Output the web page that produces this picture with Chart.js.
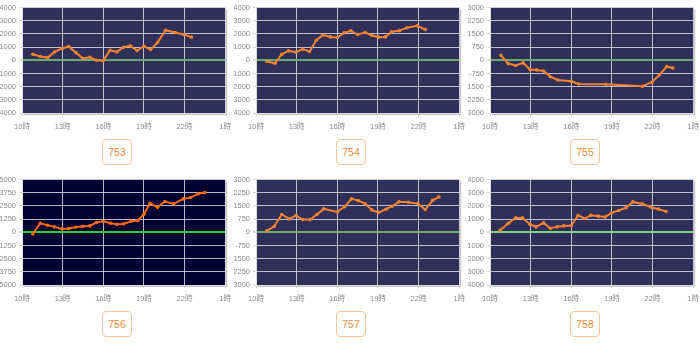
<!DOCTYPE html>
<html>
<head>
<meta charset="utf-8">
<script src="https://cdn.jsdelivr.net/npm/chart.js@4"></script>
<style>
  body { margin: 0; background: #fff; width: 700px; height: 344px; overflow: hidden; position: relative; }
  .panel { position: absolute; width: 234px; height: 172px; overflow: hidden; }
  .panel canvas { position: absolute; left: -6px; top: 0; }
  .btn { position: absolute; left: 102px; top: 139px; width: 30px; height: 26px; box-sizing: border-box;
         border: 1px solid #fbc59c; border-radius: 4px; color: #f28c3e; background: #fff;
         font: 10.5px "Liberation Sans", "Noto Sans", sans-serif; line-height: 24px; text-align: center; }
</style>
</head>
<body>
<script>
const names = ['753', '754', '755', '756', '757', '758'];
const yMax = [4000, 4000, 3000, 5000, 3000, 4000];

const hours753 = [10.8, 11.35, 11.9, 12.4, 12.95, 13.45, 14.0, 14.5, 15.0, 15.5, 16.0, 16.5, 17.0, 17.5, 18.0, 18.5, 19.0, 19.5, 20.0, 20.6, 21.3, 21.95, 22.5];
const values753 = [450, 280, 200, 630, 890, 1040, 560, 130, 230, 0, -30, 760, 630, 990, 1090, 730, 1060, 810, 1340, 2280, 2100, 1950, 1750];

const hours754 = [10.8, 11.4, 11.9, 12.4, 12.95, 13.45, 13.95, 14.45, 14.95, 15.5, 16.0, 16.5, 17.0, 17.5, 18.05, 18.55, 19.05, 19.55, 20.0, 20.6, 21.15, 21.9, 22.5];
const values754 = [-100, -230, 460, 710, 610, 840, 660, 1520, 1920, 1770, 1720, 2080, 2230, 1950, 2100, 1900, 1750, 1770, 2150, 2250, 2460, 2610, 2330];

const hours755 = [10.8, 11.35, 11.9, 12.45, 12.95, 13.45, 13.95, 14.45, 15.0, 16.0, 16.55, 18.55, 21.25, 21.95, 22.5, 23.05, 23.5];
const values755 = [285, -190, -300, -150, -530, -550, -610, -930, -1120, -1200, -1350, -1370, -1480, -1250, -840, -360, -440];

const hours756 = [10.8, 11.35, 11.9, 12.4, 12.95, 13.45, 13.95, 14.5, 15.0, 15.5, 16.0, 16.55, 17.0, 17.5, 18.05, 18.55, 19.0, 19.45, 20.0, 20.55, 21.2, 21.9, 22.45, 23.0, 23.5];
const values756 = [-160, 850, 660, 510, 320, 350, 470, 570, 600, 920, 1040, 850, 760, 790, 1040, 1110, 1710, 2750, 2370, 2910, 2690, 3160, 3290, 3640, 3770];

const hours757 = [10.8, 11.35, 11.9, 12.45, 12.95, 13.45, 14.0, 14.5, 15.0, 16.0, 16.55, 17.05, 17.55, 18.05, 18.55, 19.05, 19.6, 20.05, 20.55, 21.25, 21.95, 22.5, 23.05, 23.5];
const values757 = [80, 340, 1010, 760, 950, 720, 720, 1010, 1330, 1160, 1460, 1900, 1800, 1630, 1270, 1120, 1310, 1480, 1730, 1710, 1630, 1290, 1820, 2010];

const hours758 = [10.75, 11.35, 11.9, 12.4, 12.95, 13.4, 13.95, 14.45, 14.95, 15.45, 16.0, 16.5, 17.0, 17.45, 18.0, 18.5, 19.0, 19.5, 20.05, 20.55, 21.25, 21.9, 22.45, 23.0];
const values758 = [150, 680, 1090, 1090, 610, 410, 710, 300, 410, 480, 510, 1270, 1040, 1290, 1220, 1160, 1490, 1650, 1870, 2300, 2150, 1900, 1750, 1570];

const allHours = [hours753, hours754, hours755, hours756, hours757, hours758];
const allValues = [values753, values754, values755, values756, values757, values758];

// plot background + little shadow to the right/bottom
const plotBg = {
  id: 'plotBg',
  beforeDraw(chart, args, opts) {
    const a = chart.chartArea, c = chart.ctx;
    c.save();
    c.fillStyle = '#c4c4c4';
    c.fillRect(a.left + 2, a.top + 2, a.right - a.left, a.bottom - a.top);
    c.fillStyle = opts.color;
    c.fillRect(a.left, a.top, a.right - a.left, a.bottom - a.top);
    c.restore();
  }
};

const tickFont = { family: '"Liberation Sans", "Noto Sans CJK JP", sans-serif', size: 7.5 };

for (let i = 0; i < names.length; i++) {
  const col = i % 3, row = Math.floor(i / 3);
  const dark = names[i] === '756';
  const bg = dark ? '#000033' : '#2f2f5a';
  const lineCol = dark ? '#ff6a00' : '#f7822e';
  const zeroCol = dark ? '#33cc33' : (names[i] === '758' ? '#7fd27f' : '#6aae6a');
  const gridCol = 'rgba(215,215,225,0.85)';

  const panel = document.createElement('div');
  panel.className = 'panel';
  panel.style.left = (col * 234) + 'px';
  panel.style.top = (row * 172) + 'px';
  const cv = document.createElement('canvas');
  cv.width = 243; cv.height = 133;
  panel.appendChild(cv);
  const btn = document.createElement('div');
  btn.className = 'btn';
  btn.textContent = names[i];
  panel.appendChild(btn);
  document.body.appendChild(panel);

  const pts = allHours[i].map((h, k) => ({ x: h, y: allValues[i][k] }));

  new Chart(cv.getContext('2d'), {
    type: 'line',
    data: {
      datasets: [{
        data: pts,
        borderColor: lineCol,
        backgroundColor: lineCol,
        borderWidth: 2,
        pointRadius: 1.8,
        pointBorderWidth: 0,
        tension: 0
      }]
    },
    options: {
      responsive: false,
      animation: false,
      layout: { padding: { top: 3, right: 8, left: 0, bottom: 0 } },
      plugins: { legend: { display: false }, tooltip: { enabled: false }, plotBg: { color: bg } },
      scales: {
        x: {
          type: 'linear',
          min: 10, max: 25,
          afterFit: s => { s.height = 20; },
          ticks: { stepSize: 3, padding: 6, color: '#8c8c8c', font: tickFont, maxRotation: 0,
                   callback: v => (v % 24) + '時' },
          grid: { color: gridCol, tickColor: '#ddd', tickLength: 3 },
          border: { color: '#ddd' }
        },
        y: {
          min: -yMax[i], max: yMax[i],
          afterFit: s => { s.width = 28; },
          ticks: { stepSize: yMax[i] / 4, padding: 3, color: '#8c8c8c', font: tickFont,
                   callback: v => String(v) },
          grid: {
            color: c => (c.tick && c.tick.value === 0) ? zeroCol : gridCol,
            lineWidth: c => (c.tick && c.tick.value === 0) ? 2 : 1,
            tickColor: '#ddd', tickLength: 3
          },
          border: { color: '#ddd' }
        }
      }
    },
    plugins: [plotBg]
  });
}
</script>
</body>
</html>
